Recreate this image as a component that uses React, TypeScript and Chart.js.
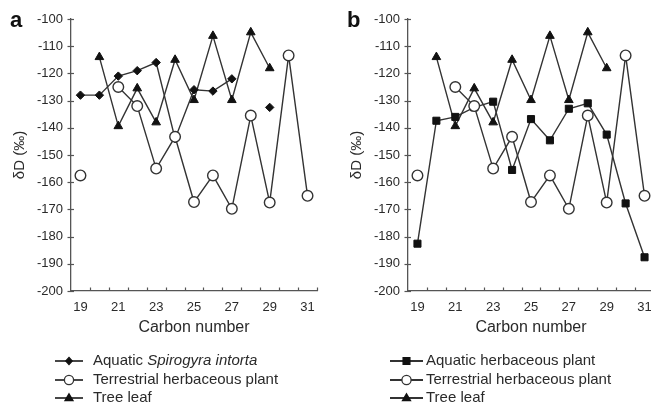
import React, { useEffect, useRef } from "react";
import { Chart, registerables } from "chart.js";

Chart.register(...registerables);

// ---------- data ----------
const carbonNumbers = [19, 20, 21, 22, 23, 24, 25, 26, 27, 28, 29, 30, 31];
const xTickValues = [19, 21, 23, 25, 27, 29, 31];
const yMin = -200;
const yMax = -100;
const yStep = 10;

const aquaticSpirogyra = [-128, -128, -121, -119, -116, -144, -126, -126.5, -122, null, -132.5, null, null];
const terrestrialHerb = [-157.5, null, -125, -132, -155, -143.3, -167.3, -157.5, -169.8, -135.5, -167.5, -113.4, -165];
const treeLeaf = [null, -114, -139.4, -125.5, -138, -115, -129.8, -106.2, -129.8, -104.9, -118.1, null, null];
const aquaticHerb = [-182.6, -137.4, -136, -132.5, -130.4, -155.5, -136.8, -144.6, -133, -131, -142.5, -167.8, -187.6];

const FONT = '"Liberation Sans", Arial, Helvetica, sans-serif';
const AXIS = "#555";
const LINE = "#333";
const MARK = "#111";
const TEXT = "#2a2a2a";

type Marker = "diamond" | "circle" | "triangle" | "square";

type Series = {
  label: string;
  values: (number | null)[];
  marker: Marker;
};

type LegendItem = {
  parts: { text: string; italic?: boolean }[];
  marker: Marker;
};

const markerStyle: Record<Marker, any> = {
  diamond: { pointStyle: "rectRot", pointRadius: 4.2, pointBackgroundColor: MARK, pointBorderColor: MARK, pointBorderWidth: 1 },
  circle: { pointStyle: "circle", pointRadius: 5.3, pointBackgroundColor: "#fff", pointBorderColor: LINE, pointBorderWidth: 1.4 },
  triangle: { pointStyle: "triangle", pointRadius: 5, pointBackgroundColor: MARK, pointBorderColor: MARK, pointBorderWidth: 1 },
  square: { pointStyle: "rect", pointRadius: 5, pointBackgroundColor: MARK, pointBorderColor: MARK, pointBorderWidth: 1 },
};

function drawMarker(ctx: CanvasRenderingContext2D, m: Marker, x: number, y: number) {
  ctx.save();
  ctx.lineWidth = 1.3;
  ctx.strokeStyle = m === "circle" ? LINE : MARK;
  ctx.fillStyle = m === "circle" ? "#fff" : MARK;
  ctx.beginPath();
  if (m === "circle") {
    ctx.arc(x, y, 4.6, 0, Math.PI * 2);
  } else if (m === "diamond") {
    ctx.moveTo(x, y - 3.6);
    ctx.lineTo(x + 3.2, y);
    ctx.lineTo(x, y + 3.6);
    ctx.lineTo(x - 3.2, y);
    ctx.closePath();
  } else if (m === "triangle") {
    ctx.moveTo(x, y - 4.2);
    ctx.lineTo(x + 4, y + 2.6);
    ctx.lineTo(x - 4, y + 2.6);
    ctx.closePath();
  } else {
    ctx.rect(x - 3.4, y - 3.4, 6.8, 6.8);
  }
  ctx.fill();
  ctx.stroke();
  ctx.restore();
}

const decorPlugin = {
  id: "decor",
  afterDraw(chart: any, _args: any, opts: any) {
    const ctx: CanvasRenderingContext2D = chart.ctx;
    const xs = chart.scales.x;
    const ys = chart.scales.y;
    const { left, bottom } = chart.chartArea;
    ctx.save();
    ctx.strokeStyle = AXIS;
    ctx.lineWidth = 1.2;
    // inward x tick marks at category boundaries
    for (let i = 0; i < carbonNumbers.length; i++) {
      const px = Math.round(xs.getPixelForValue(carbonNumbers[i] + 0.5)) + 0.5;
      ctx.beginPath();
      ctx.moveTo(px, bottom);
      ctx.lineTo(px, bottom - 3.5);
      ctx.stroke();
    }
    // y tick marks crossing the axis
    for (let v = yMin; v <= yMax; v += yStep) {
      const py = Math.round(ys.getPixelForValue(v)) + 0.5;
      ctx.beginPath();
      ctx.moveTo(left - 3.5, py);
      ctx.lineTo(left + 3, py);
      ctx.stroke();
    }
    // panel letter
    ctx.fillStyle = "#111";
    ctx.font = `bold 22px ${FONT}`;
    ctx.textBaseline = "alphabetic";
    ctx.textAlign = "left";
    ctx.fillText(opts.letter, opts.letterX, opts.letterY);
    // legend
    const items: LegendItem[] = opts.legend;
    items.forEach((it, i) => {
      const ry = opts.legendY[i];
      ctx.strokeStyle = LINE;
      ctx.lineWidth = 1.8;
      ctx.beginPath();
      ctx.moveTo(opts.lineX1, ry);
      ctx.lineTo(opts.lineX2, ry);
      ctx.stroke();
      drawMarker(ctx, it.marker, (opts.lineX1 + opts.lineX2) / 2, ry);
      let tx = opts.textX;
      ctx.fillStyle = TEXT;
      ctx.textBaseline = "middle";
      it.parts.forEach((p) => {
        ctx.font = `${p.italic ? "italic " : ""}15px ${FONT}`;
        ctx.fillText(p.text, tx, ry);
        tx += ctx.measureText(p.text).width;
      });
    });
    ctx.restore();
  },
};

type PanelProps = {
  letter: string;
  left: number;
  series: Series[];
  legend: LegendItem[];
  lineX1: number;
  lineX2: number;
  textX: number;
};

function Panel({ letter, left, series, legend, lineX1, lineX2, textX }: PanelProps) {
  const ref = useRef<HTMLCanvasElement | null>(null);
  useEffect(() => {
    if (!ref.current) return;
    const datasets = series.map((s) => ({
      label: s.label,
      data: carbonNumbers.map((c, i) => ({ x: c, y: s.values[i] })),
      borderColor: LINE,
      borderWidth: 1.4,
      tension: 0,
      spanGaps: false,
      fill: false,
      order: s.marker === "circle" ? 0 : 1,
      ...markerStyle[s.marker],
    }));
    const chart = new Chart(ref.current, {
      type: "line",
      data: { datasets },
      plugins: [decorPlugin as any],
      options: {
        animation: false,
        responsive: false,
        devicePixelRatio: 1,
        layout: { padding: { left: 0, right: 13, top: 19, bottom: 68 } },
        plugins: {
          legend: { display: false },
          tooltip: { enabled: false },
          decor: {
            letter,
            letterX: 10,
            letterY: 27,
            legend,
            legendY: [361, 380, 398],
            lineX1,
            lineX2,
            textX,
          },
        } as any,
        scales: {
          x: {
            type: "linear",
            min: 18.5,
            max: 31.5,
            afterBuildTicks: (s: any) => {
              s.ticks = xTickValues.map((v) => ({ value: v }));
            },
            afterFit: (s: any) => {
              s.height = 46;
            },
            grid: { display: false, drawTicks: false },
            border: { display: true, color: AXIS, width: 1.3 },
            ticks: {
              autoSkip: false,
              maxRotation: 0,
              padding: 9,
              color: TEXT,
              font: { size: 13, family: FONT },
              callback: (v: any) => String(v),
            },
            title: {
              display: true,
              text: "Carbon number",
              color: TEXT,
              font: { size: 16, family: FONT },
              padding: { top: 0, bottom: 0 },
            },
          },
          y: {
            type: "linear",
            min: yMin,
            max: yMax,
            afterFit: (s: any) => {
              s.width = 71;
            },
            grid: { display: false, drawTicks: false },
            border: { display: true, color: AXIS, width: 1.3 },
            ticks: {
              stepSize: yStep,
              padding: 8,
              color: TEXT,
              font: { size: 13, family: FONT },
            },
            title: {
              display: true,
              text: "δD (‰)",
              color: TEXT,
              font: { size: 15, family: FONT },
              padding: { top: 11, bottom: 0 },
            },
          },
        },
      },
    });
    return () => chart.destroy();
  }, []);
  return (
    <canvas
      ref={ref}
      width={330}
      height={405}
      style={{ position: "absolute", left, top: 0, width: 330, height: 405 }}
    />
  );
}

export default function App() {
  const seriesA: Series[] = [
    { label: "Aquatic Spirogyra intorta", values: aquaticSpirogyra, marker: "diamond" },
    { label: "Terrestrial herbaceous plant", values: terrestrialHerb, marker: "circle" },
    { label: "Tree leaf", values: treeLeaf, marker: "triangle" },
  ];
  const seriesB: Series[] = [
    { label: "Aquatic herbaceous plant", values: aquaticHerb, marker: "square" },
    { label: "Terrestrial herbaceous plant", values: terrestrialHerb, marker: "circle" },
    { label: "Tree leaf", values: treeLeaf, marker: "triangle" },
  ];
  const legendA: LegendItem[] = [
    { parts: [{ text: "Aquatic " }, { text: "Spirogyra intorta", italic: true }], marker: "diamond" },
    { parts: [{ text: "Terrestrial herbaceous plant" }], marker: "circle" },
    { parts: [{ text: "Tree leaf" }], marker: "triangle" },
  ];
  const legendB: LegendItem[] = [
    { parts: [{ text: "Aquatic herbaceous plant" }], marker: "square" },
    { parts: [{ text: "Terrestrial herbaceous plant" }], marker: "circle" },
    { parts: [{ text: "Tree leaf" }], marker: "triangle" },
  ];
  return (
    <div
      style={{
        position: "fixed",
        left: 0,
        top: 0,
        width: 651,
        height: 405,
        overflow: "hidden",
        background: "#fff",
      }}
    >
      <Panel letter="a" left={0} series={seriesA} legend={legendA} lineX1={55} lineX2={83} textX={93} />
      <Panel letter="b" left={337} series={seriesB} legend={legendB} lineX1={53} lineX2={86} textX={89} />
    </div>
  );
}
